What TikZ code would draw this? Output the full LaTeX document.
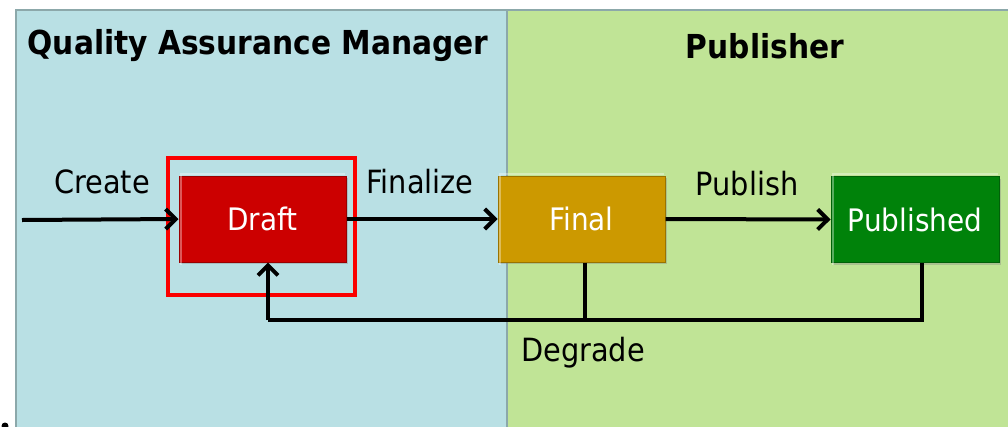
\documentclass[tikz,border=0pt]{standalone}
\usepackage{fontspec}
\setmainfont{DejaVu Sans Condensed}
\usetikzlibrary{arrows.meta,shadows}
\definecolor{qablue}{RGB}{185,224,228}
\definecolor{pubgreen}{RGB}{192,228,150}
\definecolor{panelgray}{RGB}{140,168,170}
\definecolor{draftred}{RGB}{204,0,0}
\definecolor{finalgold}{RGB}{204,153,0}
\definecolor{publgreen}{RGB}{0,130,10}
\definecolor{hlred}{RGB}{250,0,0}
\tikzset{
  panel/.style={fill=#1, draw=panelgray, line width=2.5},
  statebox/.style={fill=#1, draw=#1!75!black, line width=1, minimum width=167, minimum height=86,
    text=white, font=\fontsize{31}{36}\selectfont, inner sep=0,
    drop shadow={shadow xshift=2pt, shadow yshift=-2pt, opacity=0.35}},
  bevel/.style={draw=white, opacity=0.35, line width=2},
  lbl/.style={font=\fontsize{32}{38}\selectfont, text=black, inner sep=0},
  ttl/.style={font=\bfseries\fontsize{33}{40}\selectfont, text=black, inner sep=0},
  conn/.style={line width=4, draw=black},
  arr/.style={conn, -{Straight Barb[length=10, width=20, line width=4]}},
}
\begin{document}
\begin{tikzpicture}[x=1pt,y=-1pt]
\useasboundingbox (0,0) rectangle (1008,426);
\fill[white] (0,0) rectangle (1008,426);
% panels
\path[panel=qablue] (16,10) rectangle (507,440);
\path[panel=pubgreen] (507,10) rectangle (1020,440);
\node[ttl] (t1) at (258,46) {Quality Assurance Manager};
\node[ttl] (t2) at (765,46) {Publisher};
% boxes
\node[statebox=draftred] (draft) at (262.5,219) {Draft};
\node[statebox=finalgold] (final) at (581.5,219) {Final};
\node[statebox=publgreen, minimum width=168] (published) at (915,219.5) {Published};
\foreach \b in {draft,final,published}{
  \draw[bevel] ([xshift=2,yshift=-2]\b.south west) -- ([xshift=2,yshift=2]\b.north west) -- ([xshift=-2,yshift=2]\b.north east);
}
\node[draw=hlred, line width=4, minimum width=187, minimum height=137, inner sep=0] (hl) at (261.5,226.5) {};
% connectors
\coordinate (start) at (22,220);
\coordinate (dgl) at (268,320);
\draw[arr] (start) -- (draft.west);
\draw[arr] (draft.east) -- (final.west);
\draw[arr] (final.east) -- (published.west);
\draw[conn] ([xshift=3.5]final.south) -- ([xshift=3.5]final.south |- dgl);
\draw[conn] ([xshift=7]published.south) |- (dgl);
\draw[arr] (dgl) -- (dgl |- draft.south);
% labels
\node[lbl] (lcreate) at (102,182) {Create};
\node[lbl] (lfinal) at (420,182) {Finalize};
\node[lbl] (lpub) at (747,184) {Publish};
\node[lbl] (ldeg) at (583,353) {Degrade};
% stray bullet
\fill[black] (5,426) circle (3.5);
\end{tikzpicture}
\end{document}
